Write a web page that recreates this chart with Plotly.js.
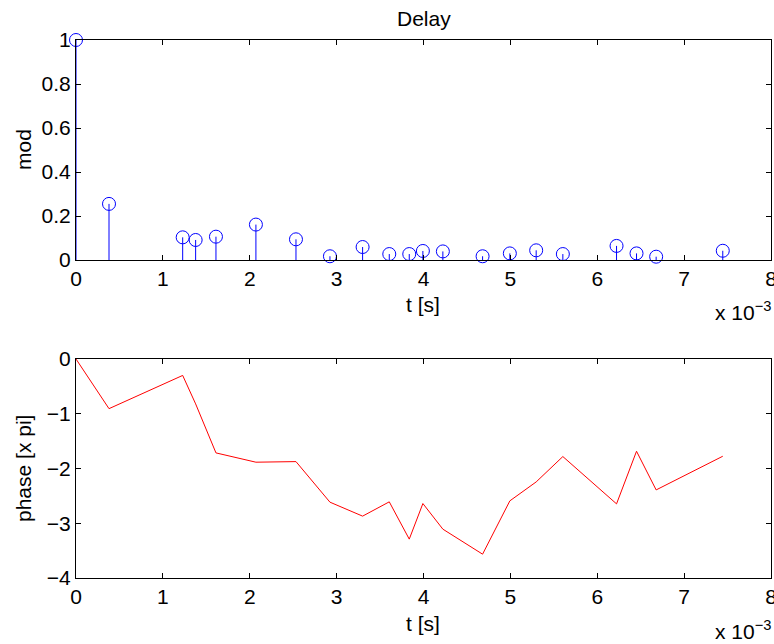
<!DOCTYPE html>
<html>
<head>
<meta charset="utf-8">
<script src="https://cdn.plot.ly/plotly-3.0.1.min.js"></script>
<style>html,body{margin:0;padding:0;background:#fff;}#chart{width:774px;height:644px;}</style>
</head>
<body>
<div id="chart"></div>
<script>
// time in units of 1e-3 s
var t = [0, 0.38, 1.228, 1.377, 1.611, 2.071, 2.532, 2.923, 3.299, 3.606, 3.836, 3.993, 4.223, 4.680, 4.994, 5.297, 5.604, 6.222, 6.452, 6.678, 7.445];
var modValues = [1.0, 0.255, 0.103, 0.091, 0.106, 0.161, 0.094, 0.017, 0.059, 0.027, 0.027, 0.041, 0.039, 0.017, 0.030, 0.044, 0.027, 0.064, 0.030, 0.015, 0.042];
var phaseValues = [0, -0.907, -0.30, -0.82, -1.715, -1.885, -1.874, -2.615, -2.870, -2.609, -3.29, -2.64, -3.108, -3.565, -2.591, -2.245, -1.782, -2.646, -1.685, -2.391, -1.776];
var xTicks = [0, 1, 2, 3, 4, 5, 6, 7, 8];
var modTicks = [0, 0.2, 0.4, 0.6, 0.8, 1];
var modTickText = ['0', '0.2', '0.4', '0.6', '0.8', '1'];
var phaseTicks = [-4, -3, -2, -1, 0];
var phaseTickText = ['\u22124', '\u22123', '\u22122', '\u22121', '0'];

var W = 774, H = 644;
function px(x) { return x / W; }
function py(y) { return 1 - y / H; }

var stemX = [], stemY = [];
for (var i = 0; i < t.length; i++) {
  stemX.push(t[i], t[i], null);
  stemY.push(0, modValues[i], null);
}

var font = {family: 'Liberation Sans, Arial, sans-serif', size: 21, color: '#000'};

var traces = [
  {x: stemX, y: stemY, type: 'scatter', mode: 'lines', line: {color: 'rgb(0,0,255)', width: 1}, xaxis: 'x', yaxis: 'y', hoverinfo: 'skip', showlegend: false},
  {x: t, y: modValues, type: 'scatter', mode: 'markers', marker: {symbol: 'circle-open', size: 13, color: 'rgb(0,0,255)', line: {width: 1, color: 'rgb(0,0,255)'}}, xaxis: 'x', yaxis: 'y', cliponaxis: false, showlegend: false},
  {x: t, y: phaseValues, type: 'scatter', mode: 'lines', line: {color: 'rgb(255,0,0)', width: 1}, xaxis: 'x2', yaxis: 'y2', showlegend: false}
];

var axCommon = {
  showline: true, linecolor: '#000', linewidth: 1, mirror: 'ticks',
  ticks: 'inside', ticklen: 5, tickcolor: '#000', tickwidth: 1,
  showgrid: false, zeroline: false, tickfont: font, fixedrange: true,
  ticklabeloverflow: 'allow'
};

function ax(extra) { return Object.assign({}, axCommon, extra); }

function ann(text, x, y, extra) {
  return Object.assign({text: text, x: px(x), y: py(y), xref: 'paper', yref: 'paper',
    xanchor: 'center', yanchor: 'middle', showarrow: false, font: font}, extra || {});
}

var layout = {
  width: W, height: H,
  margin: {l: 0, r: 0, t: 0, b: 0},
  paper_bgcolor: '#fff', plot_bgcolor: '#fff',
  showlegend: false,
  xaxis: ax({domain: [px(76), px(771)], range: [0, 8], tickvals: xTicks, ticktext: xTicks.map(String), anchor: 'y'}),
  yaxis: ax({domain: [py(260), py(40)], range: [0, 1], tickvals: modTicks, ticktext: modTickText, anchor: 'x'}),
  xaxis2: ax({domain: [px(76), px(771)], range: [0, 8], tickvals: xTicks, ticktext: xTicks.map(String), anchor: 'y2'}),
  yaxis2: ax({domain: [py(578), py(359)], range: [-4, 0], tickvals: phaseTicks, ticktext: phaseTickText, anchor: 'x2'}),
  annotations: [
    ann('Delay', 424, 19),
    ann('t [s]', 423, 304),
    ann('t [s]', 423, 623),
    ann('mod', 23, 150, {textangle: -90}),
    ann('phase [x pi]', 23, 469, {textangle: -90}),
    ann('x 10<sup>\u22123</sup>', 713, 311, {xanchor: 'left'}),
    ann('x 10<sup>\u22123</sup>', 713, 630, {xanchor: 'left'})
  ]
};

Plotly.newPlot('chart', traces, layout, {staticPlot: true, displayModeBar: false});
</script>
</body>
</html>
